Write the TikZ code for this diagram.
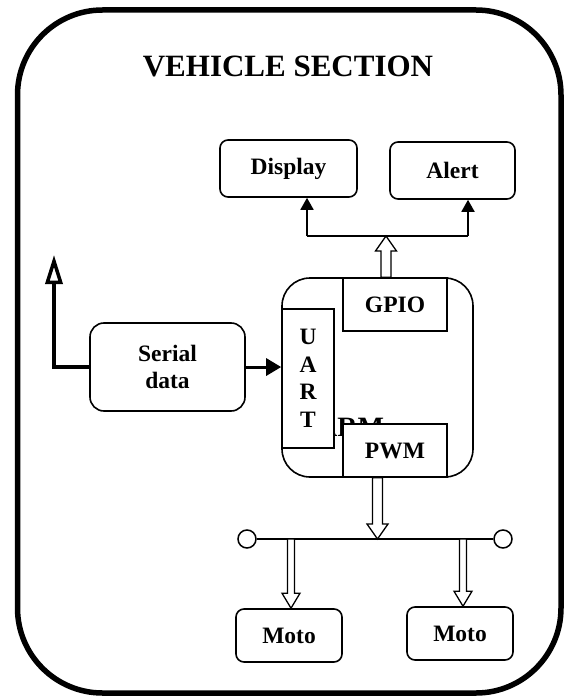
\documentclass[tikz,border=0pt]{standalone}
\usepackage{fontspec}
\setmainfont{Liberation Serif}
\usetikzlibrary{calc,arrows.meta}
\newcommand\fatarrow[3][5]{%
\draw[fatline] let \p1=(#2), \p2=(#3), \n1={sign(\y2-\y1)*15pt}, \n2={#1pt}, \n3={#1pt+5.5pt} in
 (\x1-\n2,\y1) -- (\x1-\n2,\y2-\n1) -- (\x1-\n3,\y2-\n1) -- (\x1,\y2)
 -- (\x1+\n3,\y2-\n1) -- (\x1+\n2,\y2-\n1) -- (\x1+\n2,\y1) -- cycle;}
\begin{document}
\begin{tikzpicture}[x=1pt,y=-1pt,>={Triangle[length=12pt,width=13pt]},
 lbl/.style={font=\fontsize{23.5}{27}\selectfont\bfseries,align=center,inner sep=0pt},
 blk/.style={lbl,draw,line width=1.6pt,rounded corners=8pt},
 port/.style={lbl,draw,line width=1.6pt,fill=white},
 sig/.style={line width=1.8pt},
 fatline/.style={draw,fill=white,line width=1.3pt,line join=miter}]
\useasboundingbox (0,0) rectangle (567,698);
\draw[line width=5.5pt,rounded corners=85pt] (17.5,10) rectangle (561,693);
\node[font=\fontsize{31}{36}\selectfont\bfseries] (title) at (288,66) {VEHICLE SECTION};
\node[blk,minimum width=137pt,minimum height=57pt] (disp) at (288.5,168.5) {Display};
\node[blk,minimum width=125pt,minimum height=57pt] (alert) at (452.5,170.5) {Alert};
\node[draw,line width=1.6pt,rounded corners=28pt,minimum width=191pt,minimum height=199pt] (arm) at (377.5,377.5) {};
\node[font=\fontsize{28}{32}\selectfont\bfseries,anchor=base west,inner sep=0pt] (armlbl) at (317,436) {ARM};
\node[port,font=\fontsize{23.5}{27.6}\selectfont\bfseries,minimum width=52pt,minimum height=139pt] (uart) at (308,378.5) {U\\A\\R\\T};
\node[port,minimum width=104pt,minimum height=53pt] (gpio) at (395,304.5) {GPIO};
\node[port,minimum width=104pt,minimum height=53pt] (pwm) at (395,450.5) {PWM};
\node[blk,rounded corners=14pt,minimum width=155pt,minimum height=88pt] (serial) at (167.5,367) {Serial\\data};
\node[blk,minimum width=106pt,minimum height=53pt] (motoa) at (289,635.5) {Moto};
\node[blk,minimum width=106pt,minimum height=53pt] (motob) at (460,633.5) {Moto};
\node[draw,circle,line width=1.5pt,minimum size=18pt,inner sep=0pt] (busl) at (247,539) {};
\node[draw,circle,line width=1.5pt,minimum size=18pt,inner sep=0pt] (busr) at (503,539) {};
\coordinate (jd) at (307,236);
\coordinate (ja) at (468,236);
\coordinate (up) at (386,236);
\coordinate (bus) at (377.5,539);
\coordinate (ma) at (291,539);
\coordinate (mb) at (463,539);
\coordinate (tx) at (54,255);
\draw[sig] (jd) -- (ja);
\draw[sig,->] (jd) -- (jd |- disp.south);
\draw[sig,->] (ja) -- (ja |- alert.south);
\fatarrow{up |- gpio.north}{up}
\draw[line width=1.8pt] (busl) -- (busr);
\fatarrow{bus |- pwm.south}{bus}
\fatarrow[3.5]{ma}{ma |- motoa.north}
\fatarrow[3.5]{mb}{mb |- motob.north}
\draw[line width=3pt,-{Triangle[length=15pt,width=17pt]}] (serial.east) -- (serial.east -| uart.west);
\draw[line width=3.5pt,-{Triangle[open,length=29pt,width=17pt]}] (serial.west) -| (tx);
\end{tikzpicture}
\end{document}
